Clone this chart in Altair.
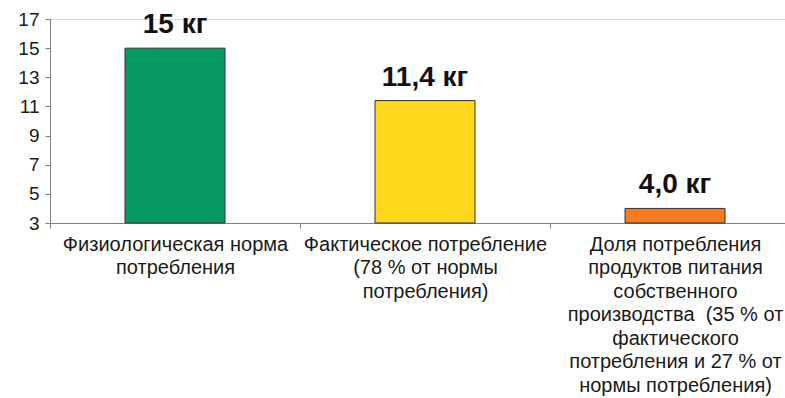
import altair as alt
import pandas as pd

categories = [
    "Физиологическая норма\nпотребления",
    "Фактическое потребление\n(78 % от нормы\nпотребления)",
    "Доля потребления\nпродуктов питания\nсобственного\nпроизводства \u00a0(35 % от\nфактического\nпотребления и 27 % от\nнормы потребления)",
]
values = [15.0, 11.4, 4.0]
value_labels = ["15 кг", "11,4 кг", "4,0 кг"]
colors = ["#069A62", "#FFD71F", "#F47B20"]
y_ticks = [3, 5, 7, 9, 11, 13, 15, 17]

df = pd.DataFrame({"cat": categories, "val": values, "lab": value_labels, "col": colors})

x = alt.X(
    "cat:N",
    sort=None,
    scale=alt.Scale(range=[0, 750], paddingInner=0, paddingOuter=0),
    axis=alt.Axis(
        title=None,
        labelExpr="split(datum.label, '\\n')",
        labelAngle=0,
        labelFontSize=20,
        labelFont="Liberation Sans",
        labelColor="#1a1a1a",
        labelLineHeight=23.5,
        labelPadding=6,
        labelBaseline="top",
        labelLimit=0,
        labelOverlap=False,
        tickBand="extent",
        tickSize=5,
        tickColor="#808080",
        domainColor="#808080",
    ),
)

y = alt.Y(
    "val:Q",
    scale=alt.Scale(domain=[3, 17], nice=False, zero=False),
    axis=alt.Axis(
        title=None,
        values=y_ticks,
        grid=False,
        labelFontSize=19,
        labelFont="Liberation Sans",
        labelColor="#1a1a1a",
        labelPadding=6,
        labelOverlap=False,
        labelBound=False,
        labelFlush=False,
        tickSize=5,
        tickColor="#808080",
        domainColor="#808080",
    ),
)

bars = alt.Chart(df).mark_bar(
    width=alt.RelativeBandSize(0.4), stroke="#333333", strokeWidth=1
).encode(
    x=x,
    y=y,
    y2=alt.datum(3),
    color=alt.Color("col:N", scale=None),
)

texts = alt.Chart(df).mark_text(
    baseline="bottom", dy=-9, fontSize=28, fontWeight="bold", font="Liberation Sans", color="#111111"
).encode(x=x, y=y, text="lab:N")

chart = (
    alt.layer(bars, texts)
    .properties(
        width=735,
        height=204,
        autosize=alt.AutoSizeParams(type="none"),
        padding={"left": 50, "top": 19, "right": 0, "bottom": 175},
    )
    .configure_view(stroke=None)
    .configure(background="white")
)

chart.save("out.html", embed_options={"renderer": "svg", "actions": False})
